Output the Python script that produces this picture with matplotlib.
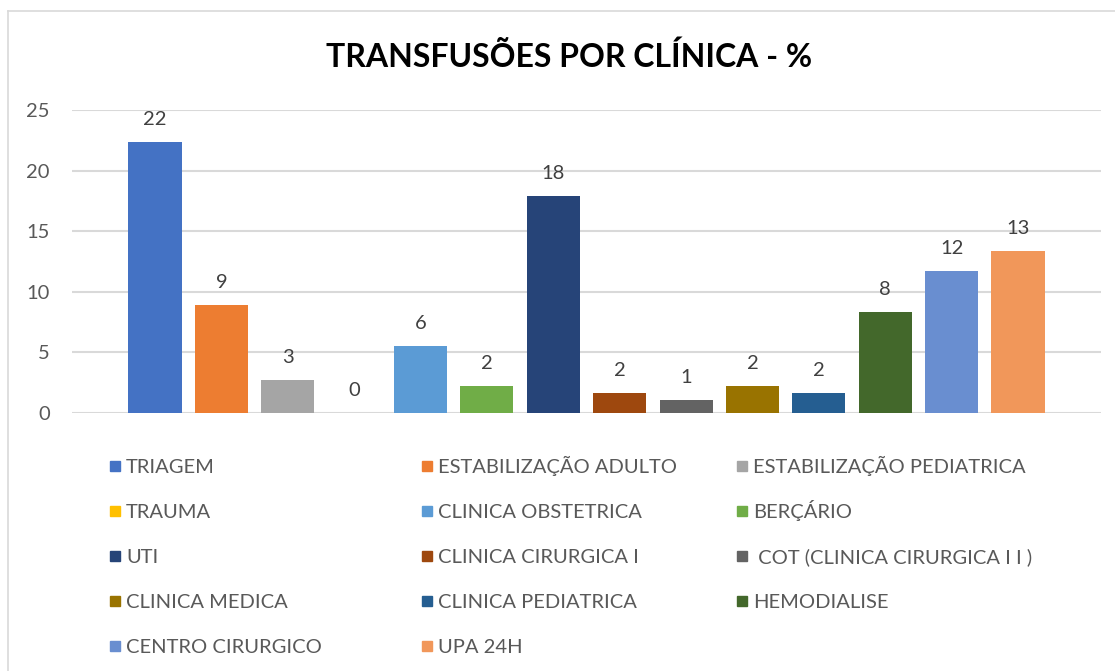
import matplotlib
matplotlib.use("Agg")
from matplotlib import pyplot as plt
from matplotlib.lines import Line2D
from matplotlib.patches import Rectangle
import numpy as np

plt.rcParams['font.family'] = ['Lato', 'DejaVu Sans']

clinicas = ['TRIAGEM', 'ESTABILIZAÇÃO ADULTO', 'ESTABILIZAÇÃO PEDIATRICA',
            'TRAUMA', 'CLINICA OBSTETRICA', 'BERÇÁRIO',
            'UTI', 'CLINICA CIRURGICA I', ' COT (CLINICA CIRURGICA I I )',
            'CLINICA MEDICA', 'CLINICA PEDIATRICA', 'HEMODIALISE',
            'CENTRO CIRURGICO', 'UPA 24H']
percentual = [22.4, 8.9, 2.75, 0.0, 5.55, 2.25, 17.9, 1.65, 1.1,
              2.25, 1.65, 8.35, 11.75, 13.4]
cores = ['#4472C4', '#ED7D31', '#A5A5A5', '#FFC000', '#5B9BD5', '#70AD47',
         '#264478', '#9E480E', '#636363', '#997300', '#255E91', '#43682B',
         '#698ED0', '#F1975A']
yticks = [0, 5, 10, 15, 20, 25]

W, H = 1115, 671
fig = plt.figure(figsize=(W / 100, H / 100), dpi=100)
ax = fig.add_axes([72 / W, 1 - 413 / H, (1101 - 72) / W, (413 - 110) / H])

x = np.arange(len(clinicas))
bars = ax.bar(x, percentual, width=0.8, color=cores, zorder=3)
for b, v in zip(bars, percentual):
    ax.annotate('%d' % round(v), (b.get_x() + b.get_width() / 2, v),
                xytext=(0, 10), textcoords='offset points',
                ha='center', va='bottom', fontsize=14.5, color='#404040')

ax.set_xlim(-1.25, len(clinicas) + 0.25)
ax.set_ylim(0, 25)
ax.set_yticks(yticks)
ax.set_xticks([])
ax.tick_params(axis='y', length=0, pad=16, labelsize=14.5, labelcolor='#595959')
ax.yaxis.grid(True, color='#D9D9D9', linewidth=1.5, zorder=0)
for s in ax.spines.values():
    s.set_visible(False)

fig.text(569 / W, 1 - 57 / H, 'TRANSFUSÕES POR CLÍNICA - %', ha='center', va='center',
         fontsize=23, fontweight='bold', color='black')

# legenda manual, 3 colunas como no Excel
col_x = [110, 422, 737]
for i, (nome, c) in enumerate(zip(clinicas, cores)):
    row, col = divmod(i, 3)
    yc = 466 + row * 45
    fig.patches.append(Rectangle((col_x[col] / W, 1 - (yc + 5) / H), 10 / W, 10 / H,
                                 transform=fig.transFigure, color=c))
    fig.text((col_x[col] + 16) / W, 1 - (yc + 7) / H, nome, ha='left', va='baseline',
             fontsize=14.5, color='#595959')

# moldura
fig.add_artist(Line2D([8 / W, 1], [1 - 11 / H, 1 - 11 / H], transform=fig.transFigure,
                      color='#D9D9D9', linewidth=1.2))
fig.add_artist(Line2D([8 / W, 8 / W], [1 - 11 / H, 0], transform=fig.transFigure,
                      color='#D9D9D9', linewidth=1.2))

fig.savefig('out.png', dpi=100)
